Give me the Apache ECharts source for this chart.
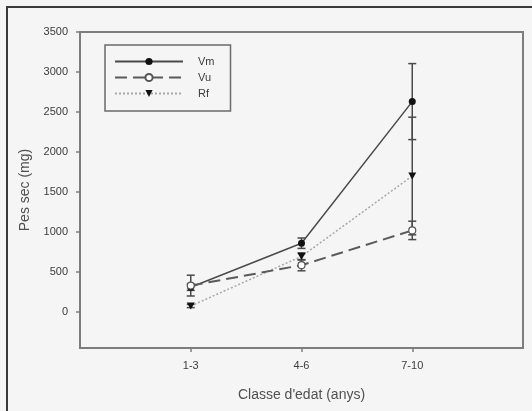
<!DOCTYPE html>
<html>
<head>
<meta charset="utf-8">
<script src="https://cdn.jsdelivr.net/npm/echarts@6/dist/echarts.min.js"></script>
<style>
  html, body { margin: 0; padding: 0; background: #f5f5f5; }
  #wrap { position: relative; width: 532px; height: 411px; }
  #wrap:after {
    content: ''; position: absolute; left: 6px; top: 6px; right: 0; bottom: 0;
    border-left: 2px solid #3a3a3a; border-top: 2px solid #3a3a3a; pointer-events: none;
  }
  #main { width: 532px; height: 411px; }
</style>
</head>
<body>
<div id="wrap"><div id="main"></div></div>
<script>
// age classes (placed at x = 1, 2, 3)
const categories = ['1-3', '4-6', '7-10'];
const yTicks = [0, 500, 1000, 1500, 2000, 2500, 3000, 3500];

// dry weight (mg) and error (+/-)
const vmValues = [310, 860, 2630];
const vmErrors = [40, 65, 475];
const vuValues = [330, 585, 1020];
const vuErrors = [130, 70, 115];
const rfValues = [75, 695, 1700];
const rfErrors = [20, 45, 735];

const toPoints = vals => vals.map((v, i) => [i + 1, v]);
const toBars = (vals, errs) => vals.map((v, i) => [i + 1, v - errs[i], v + errs[i]]);

function errorBar(params, api) {
    const x = api.value(0);
    const lo = api.coord([x, api.value(1)]);
    const hi = api.coord([x, api.value(2)]);
    const half = 4;
    const style = { stroke: '#4a4a4a', lineWidth: 1.5 };
    return {
        type: 'group',
        children: [
            { type: 'line', shape: { x1: lo[0], y1: lo[1], x2: hi[0], y2: hi[1] }, style },
            { type: 'line', shape: { x1: lo[0] - half, y1: lo[1], x2: lo[0] + half, y2: lo[1] }, style },
            { type: 'line', shape: { x1: hi[0] - half, y1: hi[1], x2: hi[0] + half, y2: hi[1] }, style }
        ]
    };
}

const myChart = echarts.init(document.getElementById('main'));
const txt = '#3c3c3c';

myChart.setOption({
    backgroundColor: 'transparent',
    textStyle: { fontFamily: 'Liberation Sans, Arial, sans-serif' },
    grid: {
        left: 80, right: 9, top: 32, bottom: 63,
        show: true, borderColor: '#7d7d7d', borderWidth: 2
    },
    legend: {
        orient: 'vertical',
        left: 105, top: 45,
        padding: [11, 16, 12, 9],
        itemWidth: 68, itemHeight: 9, itemGap: 5,
        borderColor: '#6a6a6a', borderWidth: 1.5,
        textStyle: { color: txt, fontSize: 11, padding: [0, 0, 0, 10] },
        data: ['Vm', 'Vu', 'Rf']
    },
    xAxis: {
        type: 'value', min: 0, max: 4,
        axisLine: { show: false, onZero: false },
        splitLine: { show: false },
        axisTick: { show: true, customValues: [1, 2, 3], length: 4, lineStyle: { color: '#7d7d7d', width: 1.5 } },
        axisLabel: {
            customValues: [1, 2, 3], margin: 12, color: txt, fontSize: 11,
            formatter: v => categories[v - 1]
        },
        name: "Classe d'edat (anys)", nameLocation: 'middle', nameGap: 40,
        nameTextStyle: { color: '#505050', fontSize: 14 }
    },
    yAxis: {
        type: 'value', min: -450, max: 3500,
        axisLine: { show: false, onZero: false },
        splitLine: { show: false },
        axisTick: { show: true, customValues: yTicks, length: 4, lineStyle: { color: '#7d7d7d', width: 1.5 } },
        axisLabel: { customValues: yTicks, margin: 12, color: txt, fontSize: 11, formatter: v => String(v) },
        name: 'Pes sec (mg)', nameLocation: 'middle', nameGap: 45,
        nameTextStyle: { color: '#505050', fontSize: 14 }
    },
    series: [
        { type: 'custom', renderItem: errorBar, data: toBars(vmValues, vmErrors), z: 1, silent: true },
        { type: 'custom', renderItem: errorBar, data: toBars(vuValues, vuErrors), z: 1, silent: true },
        { type: 'custom', renderItem: errorBar, data: toBars(rfValues, rfErrors), z: 1, silent: true },
        {
            name: 'Rf', type: 'line', data: toPoints(rfValues), z: 3,
            symbol: 'path://M0,0 L10,0 L5,9 Z', symbolSize: [8, 7],
            itemStyle: { color: '#111' },
            lineStyle: { color: '#a8a8a8', width: 1.5, type: [2, 2] }
        },
        {
            name: 'Vm', type: 'line', data: toPoints(vmValues), z: 4,
            symbol: 'circle', symbolSize: 7,
            itemStyle: { color: '#111' },
            lineStyle: { color: '#4a4a4a', width: 1.5 }
        },
        {
            name: 'Vu', type: 'line', data: toPoints(vuValues), z: 5,
            symbol: 'circle', symbolSize: 7,
            itemStyle: { color: '#ffffff', borderColor: '#555', borderWidth: 1.2 },
            lineStyle: { color: '#5a5a5a', width: 2, type: [12, 6] }
        }
    ]
});
</script>
</body>
</html>
